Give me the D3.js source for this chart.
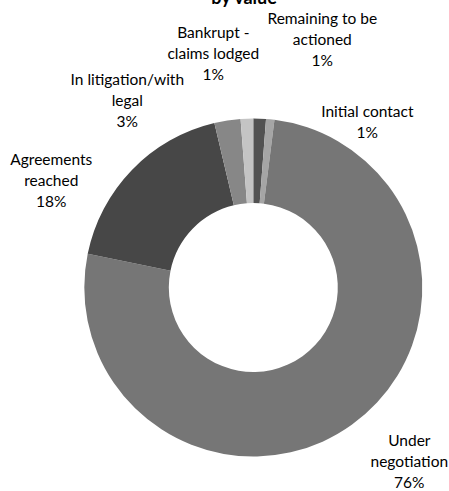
<!DOCTYPE html>
<html lang="en">
<head>
    <meta charset="UTF-8">
    <title>Arrears by value</title>
    <script src="https://d3js.org/d3.v7.min.js"></script>
    <style>
        body { margin: 0; background: #fff; }
        .lbl { font: 15.5px Lato, "Open Sans", sans-serif; fill: #000; }
        .title { font: bold 18px Lato, "Open Sans", sans-serif; fill: #000; }
    </style>
</head>
<body>
    <svg id="chart"></svg>
    <script>
        // data (share of total value, %)
        const categories = ["Remaining to be actioned", "Initial contact", "Under negotiation",
                            "Agreements reached", "In litigation/with legal", "Bankrupt - claims lodged"];
        const values = [1.2, 0.8, 76.2, 18.1, 2.5, 1.2];
        // how each label wraps in the original
        const labelLines = [["Remaining to be", "actioned"], ["Initial contact"], ["Under", "negotiation"],
                            ["Agreements", "reached"], ["In litigation/with", "legal"], ["Bankrupt -", "claims lodged"]];
        const colors = ["#525252", "#a5a5a5", "#767676", "#474747", "#878787", "#c4c4c4"];

        // label anchors (centre x, first baseline) relative to the pie centre
        const labelOffsets = [[69, -264], [114, -171], [156, 158], [-202, -123], [-126, -203], [-40, -250]];

        const width = 449, height = 491;
        const cx = 253.3, cy = 287.5;
        const outerR = 169, innerR = 84.5;
        const lineH = 21;

        const svg = d3.select("#chart")
            .attr("width", width)
            .attr("height", height);

        // only the bottom of the second title line shows in the original
        svg.append("text")
            .attr("class", "title")
            .attr("x", 244)
            .attr("y", 4)
            .attr("text-anchor", "middle")
            .text("by value");

        const pie = d3.pie().sort(null).value(d => d);
        const arc = d3.arc().innerRadius(innerR).outerRadius(outerR);
        const total = d3.sum(values);

        const g = svg.append("g").attr("transform", "translate(" + cx + "," + cy + ")");

        g.selectAll("path")
            .data(pie(values))
            .enter().append("path")
            .attr("d", arc)
            .attr("fill", (d, i) => colors[i]);

        // labels: name lines + percent
        categories.forEach((c, i) => {
            const lines = labelLines[i].concat([Math.round(values[i] / total * 100) + "%"]);
            const t = g.append("text")
                .attr("class", "lbl")
                .attr("text-anchor", "middle");
            lines.forEach((s, k) => {
                t.append("tspan")
                    .attr("x", labelOffsets[i][0])
                    .attr("y", labelOffsets[i][1] + k * lineH)
                    .text(s);
            });
        });
    </script>
</body>
</html>
